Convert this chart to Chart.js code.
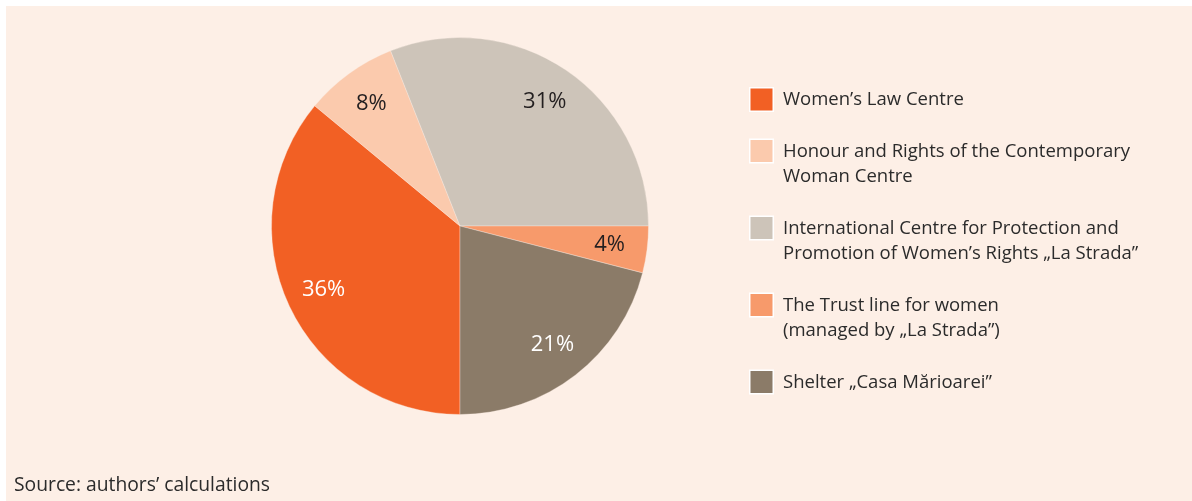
<!DOCTYPE html>
<html>
<head>
<meta charset="utf-8">
<script src="https://cdn.jsdelivr.net/npm/chart.js@4.4.1/dist/chart.umd.min.js"></script>
<style>
  html, body { margin: 0; padding: 0; background: #ffffff; }
  #wrap { position: absolute; left: 0; top: 0; width: 1192px; height: 501px; }
</style>
</head>
<body>
<div id="wrap"><canvas id="pie" width="1192" height="501"></canvas></div>
<script>
// ---------------------------
// Data
// ---------------------------
const labels = [
  ["Women\u2019s Law Centre"],
  ["Honour and Rights of the Contemporary", "Woman Centre"],
  ["International Centre for Protection and", "Promotion of Women\u2019s Rights \u201eLa Strada\u201d"],
  ["The Trust line for women", "(managed by \u201eLa Strada\u201d)"],
  ["Shelter \u201eCasa M\u0103rioarei\u201d"]
];
const shares = [36, 8, 31, 4, 21];
const colors = ["#f26024", "#fbcaad", "#cdc4b9", "#f79a6b", "#8b7b68"];
const labelColors = ["#ffffff", "#231f20", "#231f20", "#231f20", "#ffffff"];
const sourceNote = "Source: authors\u2019 calculations";

const FONT = "'Open Sans', 'Noto Sans', sans-serif";
const BG = "#fdefe6";

// background with the thin white margin at top/left
const bgPlugin = {
  id: "bg",
  beforeDraw(chart) {
    const c = chart.ctx;
    c.save();
    c.fillStyle = "#ffffff";
    c.fillRect(0, 0, chart.width, chart.height);
    c.fillStyle = BG;
    c.fillRect(6, 6, chart.width - 6, chart.height - 6);
    c.restore();
  }
};

// percentage labels inside the slices
const sliceLabels = {
  id: "sliceLabels",
  afterDatasetsDraw(chart) {
    const c = chart.ctx;
    const meta = chart.getDatasetMeta(0);
    c.save();
    c.font = "22px " + FONT;
    c.textAlign = "center";
    c.textBaseline = "middle";
    meta.data.forEach((arc, i) => {
      const mid = (arc.startAngle + arc.endAngle) / 2;
      const r = arc.outerRadius * 0.8;
      c.fillStyle = labelColors[i];
      c.fillText(shares[i] + "%", arc.x + Math.cos(mid) * r, arc.y + Math.sin(mid) * r);
    });
    c.restore();
  }
};

// legend on the right + source note
const sideLegend = {
  id: "sideLegend",
  afterDraw(chart) {
    const c = chart.ctx;
    const x0 = 749, tx = 783, lineH = 25.5, gap = 26;
    let y = 87;
    c.save();
    c.font = "18.5px " + FONT;
    c.textBaseline = "middle";
    labels.forEach((lines, i) => {
      c.fillStyle = "#ffffff";
      c.fillRect(x0, y, 25, 25);
      c.fillStyle = colors[i];
      c.fillRect(x0 + 1.5, y + 1.5, 22, 22);
      c.fillStyle = "#2b2b2b";
      lines.forEach((t, k) => c.fillText(t, tx, y + 13 + k * lineH));
      y += lines.length * lineH + gap;
    });
    c.font = "19.3px " + FONT;
    c.fillStyle = "#2b2b2b";
    c.textBaseline = "alphabetic";
    c.fillText(sourceNote, 14, 491);
    c.restore();
  }
};

new Chart(document.getElementById("pie"), {
  type: "pie",
  data: {
    labels: labels.map(l => l.join(" ")),
    datasets: [{
      data: shares,
      backgroundColor: colors,
      borderColor: "rgba(253,239,230,0.35)",
      borderWidth: 1
    }]
  },
  options: {
    responsive: false,
    animation: false,
    rotation: 180,
    layout: { padding: { left: 271, right: 543, top: 37, bottom: 86 } },
    plugins: {
      legend: { display: false },
      tooltip: { enabled: false }
    }
  },
  plugins: [bgPlugin, sliceLabels, sideLegend]
});
</script>
</body>
</html>
